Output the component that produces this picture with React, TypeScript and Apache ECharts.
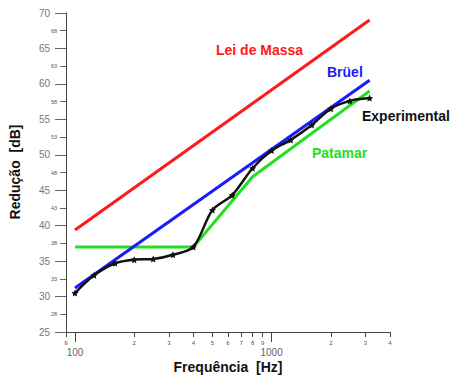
import React, { useEffect, useRef } from "react";
import * as echarts from "echarts";

// Frequencies (Hz) and reductions (dB)
const leiFreq = [100, 3150];
const leiVals = [39.4, 69.0];
const bruelFreq = [100, 3150];
const bruelVals = [31.2, 60.5];
const patamarFreq = [100, 400, 800, 3150];
const patamarVals = [37.0, 37.0, 46.9, 59.0];
const expFreq = [100, 125, 160, 200, 250, 315, 400, 500, 630, 800, 1000, 1250, 1600, 2000, 2500, 3150];
const expVals = [30.5, 33.0, 34.7, 35.2, 35.3, 35.9, 37.0, 42.2, 44.3, 48.1, 50.6, 52.1, 54.2, 56.5, 57.6, 58.0];

const xMinorTicks = [90, 200, 300, 400, 500, 600, 700, 800, 900, 2000, 3000, 4000];
const xMajorTicks = [100, 1000];
const yMinorTicks = [27.5, 32.5, 37.5, 42.5, 47.5, 52.5, 57.5, 62.5, 67.5];

const STAR =
  "path://M0,-10 L2.9,-4 9.5,-3.1 4.7,1.5 5.9,8.1 0,5 -5.9,8.1 -4.7,1.5 -9.5,-3.1 -2.9,-4Z";

const zip = (xs: number[], ys: number[]) => xs.map((x, i) => [x, ys[i]]);

export default function App() {
  const ref = useRef<HTMLDivElement>(null);
  useEffect(() => {
    if (!ref.current) return;
    const chart = echarts.init(ref.current, undefined, { renderer: "svg" });
    const font = "'Liberation Sans', Arial, sans-serif";
    const grid = { left: 66, right: 62, top: 13, bottom: 44 };
    chart.setOption({
      animation: false,
      backgroundColor: "#fff",
      grid,
      xAxis: [
        {
          type: "log",
          logBase: 10,
          min: 90,
          max: 4000,
          axisLine: { show: true, onZero: false, lineStyle: { color: "#444", width: 1 } },
          axisTick: { show: true, length: 5, customValues: xMinorTicks, lineStyle: { color: "#444" } },
          axisLabel: {
            customValues: xMinorTicks,
            formatter: (v: number) => String(Math.round(v / Math.pow(10, Math.floor(Math.log10(v) + 1e-9)))),
            fontSize: 6,
            color: "#555",
            margin: 8,
            fontFamily: font,
          },
          splitLine: { show: false },
          minorTick: { show: false },
        },
        {
          type: "log",
          logBase: 10,
          min: 90,
          max: 4000,
          position: "bottom",
          axisLine: { show: false },
          axisTick: { show: true, length: 10, customValues: xMajorTicks, lineStyle: { color: "#444" } },
          axisLabel: {
            customValues: xMajorTicks,
            formatter: (v: number) => String(Math.round(v)),
            fontSize: 10,
            color: "#666",
            margin: 15,
            fontFamily: font,
          },
          splitLine: { show: false },
        },
      ],
      yAxis: [
        {
          type: "value",
          min: 25,
          max: 70,
          interval: 5,
          axisLine: { show: true, onZero: false, lineStyle: { color: "#444", width: 1 } },
          axisTick: { show: true, length: 11, lineStyle: { color: "#666" } },
          axisLabel: { fontSize: 10, color: "#777", margin: 16, fontFamily: font },
          splitLine: { show: false },
        },
        {
          type: "value",
          min: 25,
          max: 70,
          position: "left",
          axisLine: { show: false },
          axisTick: { show: true, length: 6, customValues: yMinorTicks, lineStyle: { color: "#666" } },
          axisLabel: {
            customValues: yMinorTicks,
            formatter: (v: number) => String(Math.round(v)),
            fontSize: 5.5,
            color: "#555",
            margin: 9,
            fontFamily: font,
          },
          splitLine: { show: false },
        },
      ],
      series: [
        {
          name: "Lei de Massa",
          type: "line",
          data: zip(leiFreq, leiVals),
          showSymbol: false,
          lineStyle: { color: "#ff1a1a", width: 3 },
          z: 2,
        },
        {
          name: "Patamar",
          type: "line",
          data: zip(patamarFreq, patamarVals),
          showSymbol: false,
          lineStyle: { color: "#22e022", width: 3 },
          z: 2,
        },
        {
          name: "Brüel",
          type: "line",
          data: zip(bruelFreq, bruelVals),
          showSymbol: false,
          lineStyle: { color: "#1a1aff", width: 3 },
          z: 3,
        },
        {
          name: "Experimental",
          type: "line",
          data: zip(expFreq, expVals),
          smooth: 0.3,
          symbol: STAR,
          symbolSize: 7,
          itemStyle: { color: "#111" },
          lineStyle: { color: "#111", width: 2.5 },
          z: 4,
        },
      ],
      graphic: [
        { type: "text", left: 216, top: 43, style: { text: "Lei de Massa", fill: "#ff1a1a", font: `bold 14px ${font}` } },
        { type: "text", left: 327, top: 65, style: { text: "Brüel", fill: "#1a1aff", font: `bold 14px ${font}` } },
        { type: "text", left: 362, top: 109, style: { text: "Experimental", fill: "#111", font: `bold 14px ${font}` } },
        { type: "text", left: 312, top: 146, style: { text: "Patamar", fill: "#22e022", font: `bold 14px ${font}` } },
        {
          type: "text",
          x: 228,
          y: 367,
          style: { text: "Frequência  [Hz]", fill: "#111", font: `bold 14px ${font}`, align: "center", verticalAlign: "middle" },
        },
        {
          type: "text",
          x: 15,
          y: 172,
          rotation: Math.PI / 2,
          style: { text: "Redução  [dB]", fill: "#111", font: `bold 14px ${font}`, align: "center", verticalAlign: "middle" },
        },
      ],
    });
    return () => chart.dispose();
  }, []);
  return <div ref={ref} style={{ width: 452, height: 376, position: "absolute", left: 0, top: 0 }} />;
}
